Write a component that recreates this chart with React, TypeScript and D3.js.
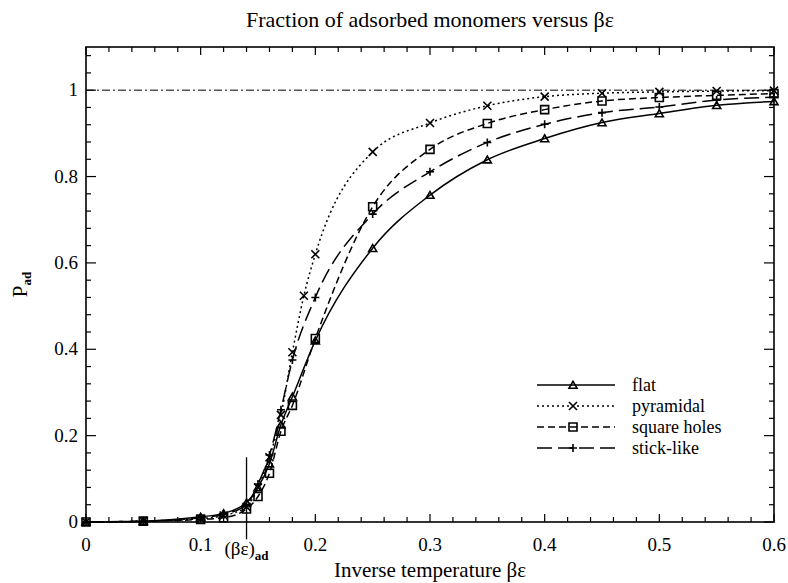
import React from "react";
import * as d3 from "d3";

const xsMain = [0, 0.05, 0.1, 0.12, 0.14, 0.15, 0.16, 0.17, 0.18, 0.2, 0.25, 0.3, 0.35, 0.4, 0.45, 0.5, 0.55, 0.6];
const xsPyr = [0, 0.05, 0.1, 0.12, 0.14, 0.15, 0.16, 0.17, 0.18, 0.19, 0.2, 0.25, 0.3, 0.35, 0.4, 0.45, 0.5, 0.55, 0.6];
const flatVals = [0, 0.002, 0.012, 0.02, 0.045, 0.08, 0.135, 0.225, 0.29, 0.42, 0.634, 0.757, 0.839, 0.888, 0.925, 0.946, 0.965, 0.974];
const pyrVals = [0, 0.002, 0.008, 0.015, 0.035, 0.08, 0.15, 0.248, 0.393, 0.524, 0.62, 0.857, 0.924, 0.964, 0.985, 0.993, 0.996, 0.998, 0.999];
const squareVals = [0, 0.002, 0.006, 0.01, 0.03, 0.059, 0.113, 0.21, 0.27, 0.425, 0.73, 0.863, 0.923, 0.955, 0.975, 0.983, 0.988, 0.992];
const stickVals = [0, 0.002, 0.01, 0.018, 0.04, 0.088, 0.155, 0.26, 0.375, 0.52, 0.713, 0.811, 0.879, 0.921, 0.948, 0.961, 0.977, 0.984];

const seriesNames = ["flat", "pyramidal", "square holes", "stick-like"];
const xTickLabels = ["0", "0.1", "0.2", "0.3", "0.4", "0.5", "0.6"];
const yTickLabels = ["0", "0.2", "0.4", "0.6", "0.8", "1"];

const W = 788, H = 583;
const L = 86, R = 774, T = 47, B = 522;
const FONT = "'Liberation Serif', 'Times New Roman', serif";

type Marker = "tri" | "x" | "sq" | "plus";

function markerPath(m: Marker, cx: number, cy: number): string {
  const s = 4;
  if (m === "tri") return `M${cx - s},${cy + s * 0.8}L${cx + s},${cy + s * 0.8}L${cx},${cy - s * 0.9}Z`;
  if (m === "sq") return `M${cx - s},${cy - s}H${cx + s}V${cy + s}H${cx - s}Z`;
  if (m === "x") return `M${cx - s},${cy - s}L${cx + s},${cy + s}M${cx - s},${cy + s}L${cx + s},${cy - s}`;
  return `M${cx - s},${cy}H${cx + s}M${cx},${cy - s}V${cy + s}`;
}

export default function App() {
  const x = d3.scaleLinear().domain([0, 0.6]).range([L, R]);
  const y = d3.scaleLinear().domain([0, 1.1]).range([B, T]);

  const series = [
    { name: seriesNames[0], xs: xsMain, ys: flatVals, marker: "tri" as Marker, dash: "none" },
    { name: seriesNames[1], xs: xsPyr, ys: pyrVals, marker: "x" as Marker, dash: "2,3" },
    { name: seriesNames[2], xs: xsMain, ys: squareVals, marker: "sq" as Marker, dash: "7,4" },
    { name: seriesNames[3], xs: xsMain, ys: stickVals, marker: "plus" as Marker, dash: "15,6" },
  ];

  const line = d3
    .line<[number, number]>()
    .x((d) => x(d[0]))
    .y((d) => y(d[1]))
    .curve(d3.curveMonotoneX);

  const xMinor = d3.range(0, 0.6001, 0.02);
  const yMinor = d3.range(0, 1.1001, 0.04);
  const xMajor = xTickLabels.map(Number);
  const yMajor = yTickLabels.map(Number);

  const isMajor = (v: number, step: number) => Math.abs(v / step - Math.round(v / step)) < 1e-6;

  const adX = 0.14;

  return (
    <svg width={W} height={H} style={{ position: "absolute", left: 0, top: 0, background: "#fff" }} fontFamily={FONT}>
      <rect x={0} y={0} width={W} height={H} fill="#fff" />
      <text x={(L + R) / 2} y={27} textAnchor="middle" fontSize={22}>
        Fraction of adsorbed monomers versus βε
      </text>

      <rect x={L} y={T} width={R - L} height={B - T} fill="none" stroke="#000" strokeWidth={1.6} />

      {xMinor.map((v, i) => {
        const len = isMajor(v, 0.1) ? 8 : 5;
        return (
          <g key={"xt" + i} stroke="#000" strokeWidth={1.2}>
            <line x1={x(v)} x2={x(v)} y1={B} y2={B - len} />
            <line x1={x(v)} x2={x(v)} y1={T} y2={T + len} />
          </g>
        );
      })}
      {yMinor.map((v, i) => {
        const len = isMajor(v, 0.2) ? 10 : 5;
        return (
          <g key={"yt" + i} stroke="#000" strokeWidth={1.2}>
            <line x1={L} x2={L + len} y1={y(v)} y2={y(v)} />
            <line x1={R} x2={R - len} y1={y(v)} y2={y(v)} />
          </g>
        );
      })}

      {xMajor.map((v, i) => (
        <text key={"xl" + i} x={x(v)} y={551} textAnchor="middle" fontSize={19}>
          {xTickLabels[i]}
        </text>
      ))}
      {yMajor.map((v, i) => (
        <text key={"yl" + i} x={L - 8} y={y(v) + 6} textAnchor="end" fontSize={19}>
          {yTickLabels[i]}
        </text>
      ))}

      <text x={(L + R) / 2} y={577} textAnchor="middle" fontSize={21}>
        Inverse temperature βε
      </text>
      <text transform={`translate(27,${(T + B) / 2}) rotate(-90)`} textAnchor="middle" fontSize={21}>
        P<tspan fontSize={13} fontWeight="bold" dy={4}>ad</tspan>
      </text>

      <line x1={L} x2={R} y1={y(1)} y2={y(1)} stroke="#000" strokeWidth={1} strokeDasharray="8,3,2,3" />

      <line x1={x(adX)} x2={x(adX)} y1={y(0.15)} y2={y(-0.04)} stroke="#000" strokeWidth={1.3} />
      <text x={x(adX)} y={555} textAnchor="middle" fontSize={19}>
        (βε)<tspan fontSize={13} fontWeight="bold" dy={5}>ad</tspan>
      </text>

      {series.map((s) => {
        const pts = s.xs.map((v, i) => [v, s.ys[i]] as [number, number]);
        return (
          <g key={s.name}>
            <path d={line(pts) || ""} fill="none" stroke="#000" strokeWidth={1.5} strokeDasharray={s.dash} />
            {pts.map((p, i) => (
              <path key={i} d={markerPath(s.marker, x(p[0]), y(p[1]))} fill="none" stroke="#000" strokeWidth={1.6} />
            ))}
          </g>
        );
      })}

      {series.map((s, i) => {
        const ly = 385 + i * 21;
        return (
          <g key={"lg" + i}>
            <line x1={537} x2={615} y1={ly} y2={ly} stroke="#000" strokeWidth={1.5} strokeDasharray={s.dash} />
            <path d={markerPath(s.marker, 573, ly)} fill="none" stroke="#000" strokeWidth={1.6} />
            <text x={632} y={ly + 6} fontSize={18}>
              {s.name}
            </text>
          </g>
        );
      })}
    </svg>
  );
}
